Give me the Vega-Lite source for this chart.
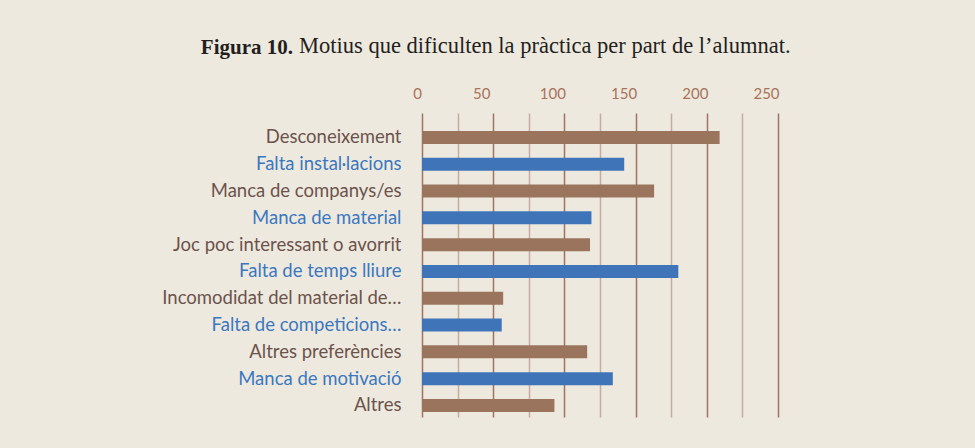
{
  "$schema": "https://vega.github.io/schema/vega-lite/v6.json",
  "width": 356,
  "height": 304,
  "autosize": {"type": "none"},
  "padding": {"left": 422, "top": 113, "right": 197, "bottom": 31},
  "background": "#EEE9DF",
  "config": {"view": {"stroke": null}, "font": "Lato"},
  "title": {
    "text": "Figura 10.",
    "subtitle": "Motius que dificulten la pràctica per part de l’alumnat.",
    "frame": "group",
    "anchor": "middle",
    "font": "Liberation Serif",
    "fontSize": 21,
    "fontWeight": "bold",
    "color": "#231F20",
    "subtitleFont": "Liberation Serif",
    "subtitleFontSize": 22.5,
    "subtitleFontWeight": "normal",
    "subtitleColor": "#231F20",
    "subtitlePadding": -22.5,
    "offset": 27,
    "encode": {
      "title": {"update": {"align": {"value": "right"}, "dx": {"value": -307}}},
      "subtitle": {"update": {"align": {"value": "left"}, "dx": {"value": -301}}}
    }
  },
  "data": {
    "values": [
      {"motiu": "Desconeixement", "valor": 209, "grup": "a"},
      {"motiu": "Falta instal·lacions", "valor": 142, "grup": "b"},
      {"motiu": "Manca de companys/es", "valor": 163, "grup": "a"},
      {"motiu": "Manca de material", "valor": 119, "grup": "b"},
      {"motiu": "Joc poc interessant o avorrit", "valor": 118, "grup": "a"},
      {"motiu": "Falta de temps lliure", "valor": 180, "grup": "b"},
      {"motiu": "Incomodidat del material de…", "valor": 57, "grup": "a"},
      {"motiu": "Falta de competicions…", "valor": 56, "grup": "b"},
      {"motiu": "Altres preferències", "valor": 116, "grup": "a"},
      {"motiu": "Manca de motivació", "valor": 134, "grup": "b"},
      {"motiu": "Altres", "valor": 93, "grup": "a"}
    ]
  },
  "mark": {"type": "bar"},
  "encoding": {
    "y": {
      "field": "motiu",
      "type": "nominal",
      "sort": null,
      "scale": {"paddingInner": 0.515, "paddingOuter": 0.43, "align": 0.78},
      "axis": {
        "title": null,
        "ticks": false,
        "domain": false,
        "grid": false,
        "labelFontSize": 18.5,
        "labelPadding": 21,
        "labelLimit": 400,
        "labelColor": {
          "condition": {
            "test": "indexof(['Falta instal·lacions', 'Manca de material', 'Falta de temps lliure', 'Falta de competicions…', 'Manca de motivació'], datum.value) >= 0",
            "value": "#3B78BF"
          },
          "value": "#6B534C"
        }
      }
    },
    "x": {
      "field": "valor",
      "type": "quantitative",
      "scale": {"domain": [0, 250], "nice": false},
      "axis": {
        "orient": "top",
        "title": null,
        "values": [0, 25, 50, 75, 100, 125, 150, 175, 200, 225, 250],
        "labelExpr": "datum.value % 50 === 0 ? datum.label : ''",
        "ticks": false,
        "domain": false,
        "grid": true,
        "gridColor": {"condition": {"test": "datum.value % 50 === 0", "value": "#9C7663"}, "value": "#C6AC9C"},
        "gridWidth": 1.5,
        "labelFontSize": 15,
        "labelColor": "#A8735A",
        "labelPadding": 15,
        "labelBaseline": "alphabetic",
        "labelOffset": {"condition": {"test": "datum.value === 0", "value": -5}, "value": -12},
        "labelOverlap": false,
        "labelBound": false,
        "labelFlush": false
      }
    },
    "color": {
      "field": "grup",
      "type": "nominal",
      "scale": {"domain": ["a", "b"], "range": ["#9A745C", "#4074B9"]},
      "legend": null
    }
  }
}
